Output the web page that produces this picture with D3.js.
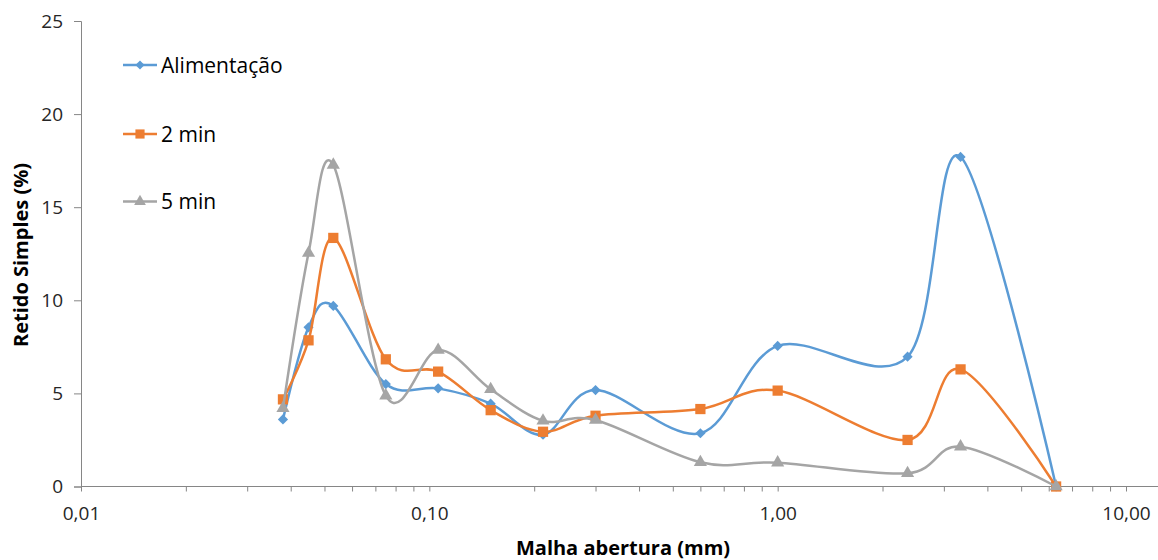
<!DOCTYPE html>
<html>
<head>
<meta charset="utf-8">
<script src="https://cdn.jsdelivr.net/npm/d3@7"></script>
<style>
  body { margin: 0; background: #fff; }
  svg { font-family: "Open Sans", sans-serif; }
</style>
</head>
<body>
<div id="chartContainer"></div>
<script>
const marginLeft = 81;
const marginTop = 21;
const plotRight = 1126;
const plotBottom = 486.5;

// sieve openings (mm)
const malha = [0.038, 0.045, 0.053, 0.075, 0.106, 0.150, 0.212, 0.300, 0.600, 1.00, 2.36, 3.35, 6.30];
const alimentacao = [3.6, 8.55, 9.7, 5.5, 5.27, 4.45, 2.78, 5.18, 2.86, 7.55, 6.97, 17.7, 0];
const min2 = [4.68, 7.85, 13.35, 6.83, 6.17, 4.1, 2.94, 3.8, 4.16, 5.15, 2.5, 6.29, 0];
const min5 = [4.2, 12.54, 17.27, 4.88, 7.33, 5.22, 3.53, 3.57, 1.3, 1.28, 0.71, 2.14, 0];

const seriesNames = ["Alimentação", "2 min", "5 min"];
const seriesValues = [alimentacao, min2, min5];
const colors = ["#5B9BD5", "#ED7D31", "#A5A5A5"];
const symbols = ["diamond", "square", "triangle"];

const yTicks = [0, 5, 10, 15, 20, 25];
const xMajor = [0.01, 0.1, 1, 10];
const xTickLabels = ["0,01", "0,10", "1,00", "10,00"];

var svg = d3.select("#chartContainer").append("svg").attr("width", 1158).attr("height", 560);

var xScale = d3.scaleLog().domain([0.01, 10]).range([marginLeft, plotRight]);
var yScale = d3.scaleLinear().domain([0, 25]).range([plotBottom, marginTop]);

// minor ticks 2..9 in each decade
var xMinor = [];
[0.01, 0.1, 1].forEach(function (d) {
    for (var k = 2; k <= 9; k++) xMinor.push(d * k);
});

var axisColor = "#868686";
var labelColor = "#262626";

// y axis
var yAxis = svg.append("g")
    .attr("transform", "translate(" + marginLeft + ",0)")
    .call(d3.axisLeft(yScale).tickValues(yTicks).tickSize(7).tickPadding(11));
yAxis.select(".domain").attr("stroke", axisColor).attr("stroke-width", 1);
yAxis.selectAll(".tick line").attr("stroke", axisColor);
yAxis.selectAll("text").attr("font-size", 19).attr("fill", labelColor).attr("font-family", "Open Sans");

// x axis minor ticks
var xMinorAxis = svg.append("g")
    .attr("transform", "translate(0," + plotBottom + ")")
    .call(d3.axisBottom(xScale).tickValues(xMinor).tickSize(5).tickFormat(""));
xMinorAxis.select(".domain").remove();
xMinorAxis.selectAll(".tick line").attr("stroke", axisColor);

// x axis major ticks
var xAxis = svg.append("g")
    .attr("transform", "translate(0," + plotBottom + ")")
    .call(d3.axisBottom(xScale).tickValues(xMajor).tickSize(5).tickPadding(15)
        .tickFormat(function (d, i) { return xTickLabels[i]; }));
xAxis.select(".domain").remove();
xAxis.selectAll(".tick line").attr("stroke", axisColor);
xAxis.selectAll("text").attr("font-size", 19).attr("fill", labelColor).attr("font-family", "Open Sans");

// x axis line runs to the edge
svg.append("line")
    .attr("x1", marginLeft).attr("x2", 1158)
    .attr("y1", plotBottom).attr("y2", plotBottom)
    .attr("stroke", axisColor).attr("stroke-width", 1);

// axis titles
svg.append("text")
    .attr("x", 623).attr("y", 555)
    .attr("text-anchor", "middle")
    .attr("font-size", 20).attr("font-weight", "bold").attr("fill", "#000")
    .text("Malha abertura (mm)");
svg.append("text")
    .attr("transform", "translate(28,255) rotate(-90)")
    .attr("text-anchor", "middle")
    .attr("font-size", 20).attr("font-weight", "bold").attr("fill", "#000")
    .text("Retido Simples (%)");

function markerPath(kind, scale) {
    if (kind == "diamond") return d3.symbol().type(d3.symbolSquare).size(52 * scale)();
    if (kind == "square") return d3.symbol().type(d3.symbolSquare).size(105 * scale)();
    return d3.symbol().type(d3.symbolTriangle).size(75 * scale)();
}

var line = d3.line()
    .x(function (d) { return xScale(d.x); })
    .y(function (d) { return yScale(d.y); })
    .curve(d3.curveCardinal.tension(0));

seriesValues.forEach(function (values, s) {
    var data = malha.map(function (x, i) { return { x: x, y: values[i] }; });
    var g = svg.append("g");
    g.append("path")
        .style("fill", "none")
        .style("stroke", colors[s])
        .style("stroke-width", "2.5px")
        .attr("d", line(data));
    g.selectAll("path.marker")
        .data(data)
        .enter()
        .append("path")
        .attr("class", "marker")
        .attr("d", markerPath(symbols[s], 1))
        .attr("fill", colors[s])
        .attr("transform", function (d) {
            return "translate(" + xScale(d.x) + "," + yScale(d.y) + ")" + (symbols[s] == "diamond" ? " rotate(45)" : "");
        });
});

// legend
var legendRows = [65, 134, 201.5];
seriesNames.forEach(function (name, s) {
    var g = svg.append("g").attr("transform", "translate(0," + legendRows[s] + ")");
    g.append("line")
        .attr("x1", 123).attr("x2", 157)
        .attr("stroke", colors[s]).attr("stroke-width", 2.5);
    g.append("path")
        .attr("d", markerPath(symbols[s], 0.8))
        .attr("fill", colors[s])
        .attr("transform", "translate(140,0)" + (symbols[s] == "diamond" ? " rotate(45)" : ""));
    g.append("text")
        .attr("x", 161).attr("y", 0).attr("dy", "0.36em")
        .attr("font-size", 21).attr("fill", "#000")
        .text(name);
});
</script>
</body>
</html>
